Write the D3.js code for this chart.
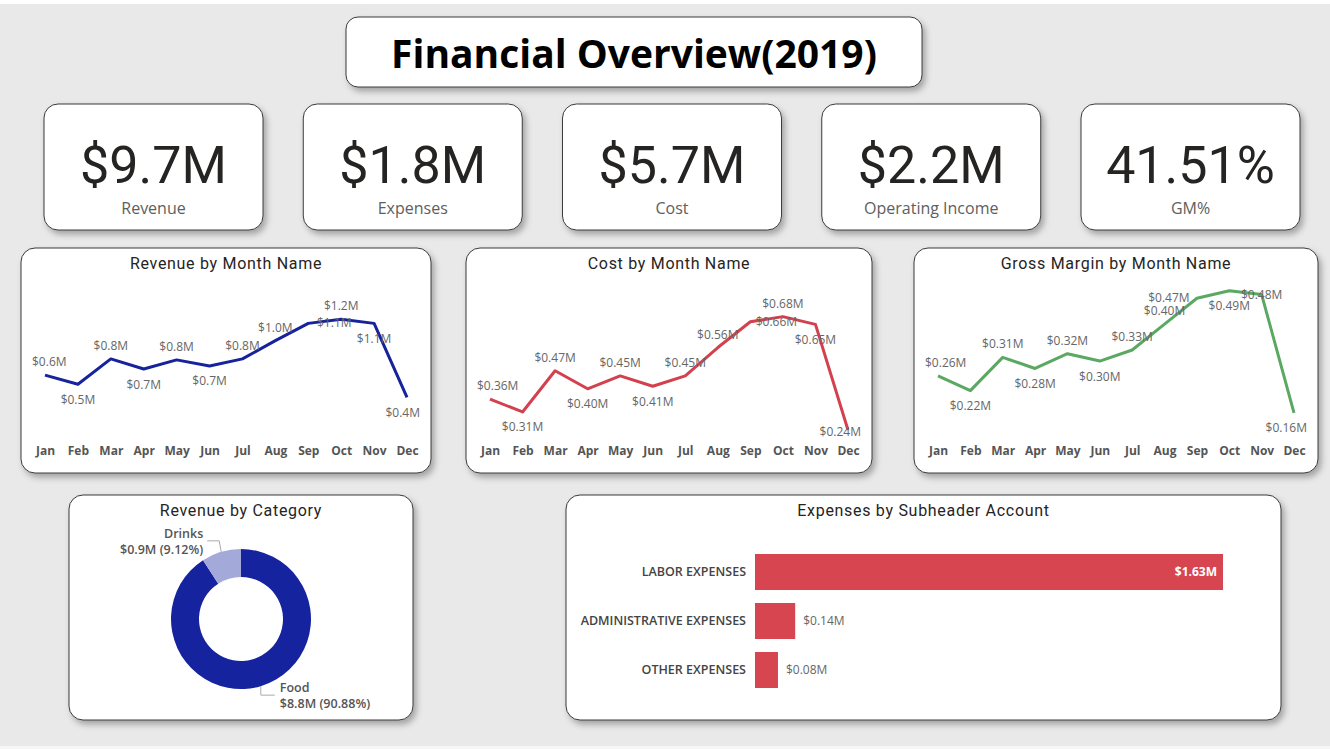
<!DOCTYPE html>
<html>
<head>
<meta charset="utf-8">
<script src="https://cdn.jsdelivr.net/npm/d3@7"></script>
<style>
  body { margin: 0; background: #e9e9e9; }
  svg { display: block; }
</style>
</head>
<body>
<svg id="dash"></svg>
<script>
// ---- data ----
const months = ["Jan", "Feb", "Mar", "Apr", "May", "Jun", "Jul", "Aug", "Sep", "Oct", "Nov", "Dec"];
const revenue = [0.62, 0.53, 0.78, 0.68, 0.77, 0.71, 0.78, 0.96, 1.13, 1.17, 1.13, 0.40];
const cost = [0.36, 0.31, 0.47, 0.40, 0.45, 0.41, 0.45, 0.56, 0.66, 0.68, 0.65, 0.24];
const grossMargin = [0.26, 0.22, 0.31, 0.28, 0.32, 0.30, 0.33, 0.40, 0.47, 0.49, 0.48, 0.16];

const kpiLabels = ["Revenue", "Expenses", "Cost", "Operating Income", "GM%"];
const kpiValues = ["$9.7M", "$1.8M", "$5.7M", "$2.2M", "41.51%"];

const categories = ["Food", "Drinks"];
const categoryRevenue = [8.779, 0.881];

const accounts = ["LABOR EXPENSES", "ADMINISTRATIVE EXPENSES", "OTHER EXPENSES"];
const accountExpenses = [1.63, 0.14, 0.08];

const W = 1330, H = 749;
const svg = d3.select("#dash").attr("width", W).attr("height", H);

svg.append("rect").attr("width", W).attr("height", H).attr("fill", "#e9e9e9");
svg.append("rect").attr("width", W).attr("height", 4).attr("fill", "#fff");
svg.append("rect").attr("y", H - 3).attr("width", W).attr("height", 3).attr("fill", "#f6f6f6");

const defs = svg.append("defs");
defs.append("filter").attr("id", "shadow")
    .attr("x", "-10%").attr("y", "-10%").attr("width", "125%").attr("height", "130%")
    .append("feDropShadow")
    .attr("dx", 3).attr("dy", 4).attr("stdDeviation", 3)
    .attr("flood-color", "#000").attr("flood-opacity", 0.3);

// white rounded card, returns group translated to its corner
function card(x, y, w, h, r = 14) {
    const g = svg.append("g").attr("transform", `translate(${x},${y})`);
    g.append("rect")
        .attr("width", w).attr("height", h).attr("rx", r)
        .attr("fill", "#fff").attr("stroke", "#3a3a3a").attr("stroke-width", 1)
        .attr("filter", "url(#shadow)");
    return g;
}

function cardTitle(g, w, text) {
    g.append("text")
        .attr("x", w / 2).attr("y", 21)
        .attr("text-anchor", "middle")
        .style("font-family", "Roboto, sans-serif")
        .style("font-size", "16px")
        .style("font-weight", 400)
        .style("letter-spacing", "0.7px")
        .style("fill", "#252423")
        .text(text);
}

// ---- header ----
const head = card(346, 17, 576, 70, 12);
head.append("text")
    .attr("x", 288).attr("y", 51)
    .attr("text-anchor", "middle")
    .style("font-family", "'Open Sans', sans-serif")
    .style("font-size", "39px")
    .style("font-weight", 700)
    .style("fill", "#000")
    .text("Financial Overview(2019)");

// ---- KPI cards ----
const kpiX = d3.scalePoint().domain(kpiLabels).range([44, 1081]);
kpiLabels.forEach((lab, i) => {
    const g = card(kpiX(lab), 104, 219, 126);
    g.append("text")
        .attr("x", 109.5).attr("y", 79)
        .attr("text-anchor", "middle")
        .style("font-family", "Roboto, sans-serif")
        .style("font-size", "52px")
        .style("fill", "#252423")
        .text(kpiValues[i]);
    g.append("text")
        .attr("x", 109.5).attr("y", 110)
        .attr("text-anchor", "middle")
        .style("font-family", "'Open Sans', sans-serif")
        .style("font-size", "16px")
        .style("fill", "#605e5c")
        .text(lab);
});

// ---- monthly line charts ----
// sides: where Power BI put each data label (a above, b below, l/r beside, c on the point)
const lineCharts = [
    { title: "Revenue by Month Name", values: revenue, color: "#16239a", fmt: d3.format(".1f"),
      x: 21, w: 410, domain: [0, 1.4], sides: "abababaarabb" },
    { title: "Cost by Month Name", values: cost, color: "#d3404e", fmt: d3.format(".2f"),
      x: 466, w: 406, domain: [0.209, 0.76], sides: "abababaarabb" },
    { title: "Gross Margin by Month Name", values: grossMargin, color: "#5aa862", fmt: d3.format(".2f"),
      x: 914, w: 404, domain: [0.092, 0.476], sides: "abababaalbcb" }
];
const sideDx = { a: 0, b: 0, l: -28, r: 26, c: 0 };
const sideDy = { a: -9, b: 19.5, l: 4, r: 4, c: 4 };

lineCharts.forEach(c => {
    const h = 225;
    const g = card(c.x, 248, c.w, h);
    cardTitle(g, c.w, c.title);

    const x = d3.scalePoint().domain(months).range([24, c.w - 24]);
    const y = d3.scaleLinear().domain(c.domain).range([190, 48]);

    const line = d3.line()
        .x((d, i) => x(months[i]))
        .y(d => y(d));

    g.append("path")
        .datum(c.values)
        .attr("d", line)
        .attr("fill", "none")
        .attr("stroke", c.color)
        .attr("stroke-width", 3)
        .attr("stroke-linejoin", "round");

    g.selectAll("text.dl")
        .data(c.values)
        .join("text")
        .attr("class", "dl")
        .attr("x", (d, i) => x(months[i]) + sideDx[c.sides[i]])
        .attr("y", (d, i) => Math.min(y(d) + sideDy[c.sides[i]], 188))
        .attr("text-anchor", "middle")
        .style("font-family", "'Open Sans', sans-serif")
        .style("font-size", "12px")
        .style("fill", "#666")
        .text(d => "$" + c.fmt(d) + "M")
        .each(function() {
            // keep labels inside the card
            const half = this.getComputedTextLength() / 2;
            const cx = +this.getAttribute("x");
            this.setAttribute("x", Math.max(11 + half, Math.min(c.w - 11 - half, cx)));
        });

    const ax = g.append("g")
        .attr("transform", `translate(0,${h - 28})`)
        .call(d3.axisBottom(x).tickSize(0).tickPadding(0));
    ax.select(".domain").remove();
    ax.selectAll("text")
        .attr("dy", 10)
        .style("font-family", "'Open Sans', sans-serif")
        .style("font-size", "12px")
        .style("font-weight", 700)
        .style("fill", "#555");
});

// ---- donut ----
const donut = card(69, 495, 344, 225);
cardTitle(donut, 344, "Revenue by Category");

const total = d3.sum(categoryRevenue);
const pie = d3.pie().sort(null)(categoryRevenue);
const color = d3.scaleOrdinal().domain(categories).range(["#16239e", "#a3a9d9"]);
const arc = d3.arc().innerRadius(42).outerRadius(70);
const edge = d3.arc().innerRadius(70).outerRadius(70);

const dg = donut.append("g").attr("transform", "translate(172,124)");
dg.selectAll("path")
    .data(pie)
    .join("path")
    .attr("d", arc)
    .attr("fill", (d, i) => color(categories[i]));

pie.forEach((d, i) => {
    const [px, py] = edge.centroid(d);
    const left = px < 0;
    const ey = py + (py < 0 ? -11 : 9);
    const ex = px + (left ? -14 : 14);
    dg.append("polyline")
        .attr("points", [[px, py], [px + (left ? -2 : 0), ey], [ex, ey]].map(p => p.join(",")).join(" "))
        .attr("fill", "none")
        .attr("stroke", "#aaa")
        .attr("stroke-width", 1);
    const tx = left ? ex - 4 : ex + 5;
    const anchor = left ? "end" : "start";
    const lbl = dg.append("g")
        .style("font-family", "'Open Sans', sans-serif")
        .style("font-size", "12.5px")
        .style("font-weight", 600)
        .style("fill", "#555")
        .attr("text-anchor", anchor);
    lbl.append("text").attr("x", tx).attr("y", ey - 3).text(categories[i]);
    lbl.append("text").attr("x", tx).attr("y", ey + 13)
        .text(`$${d3.format(".1f")(categoryRevenue[i])}M (${d3.format(".2f")(categoryRevenue[i] / total * 100)}%)`);
});

// ---- expenses bar chart ----
const bars = card(566, 495, 715, 225);
cardTitle(bars, 715, "Expenses by Subheader Account");

const bx = d3.scaleLinear().domain([0, d3.max(accountExpenses)]).range([189, 657]);
const by = d3.scaleBand().domain(accounts).range([52.5, 199.5]).paddingInner(0.265).paddingOuter(0.1325);
const inside = d => bx(d) - bx(0) > 60;

bars.selectAll("rect.bar")
    .data(accountExpenses)
    .join("rect")
    .attr("class", "bar")
    .attr("x", bx(0))
    .attr("y", (d, i) => by(accounts[i]))
    .attr("width", d => bx(d) - bx(0))
    .attr("height", by.bandwidth())
    .attr("fill", "#d64550");

bars.selectAll("text.val")
    .data(accountExpenses)
    .join("text")
    .attr("class", "val")
    .attr("x", d => inside(d) ? bx(d) - 6 : bx(d) + 8)
    .attr("y", (d, i) => by(accounts[i]) + by.bandwidth() / 2)
    .attr("dy", "0.35em")
    .attr("text-anchor", d => inside(d) ? "end" : "start")
    .style("font-family", "'Open Sans', sans-serif")
    .style("font-size", "12px")
    .style("font-weight", d => inside(d) ? 700 : 400)
    .style("fill", d => inside(d) ? "#fff" : "#666")
    .text(d => "$" + d3.format(".2f")(d) + "M");

const yAx = bars.append("g")
    .attr("transform", `translate(${bx(0) - 9},0)`)
    .call(d3.axisLeft(by).tickSize(0).tickPadding(0));
yAx.select(".domain").remove();
yAx.selectAll("text")
    .style("font-family", "'Open Sans', sans-serif")
    .style("font-size", "12.5px")
    .style("font-weight", 600)
    .style("fill", "#444");
</script>
</body>
</html>
